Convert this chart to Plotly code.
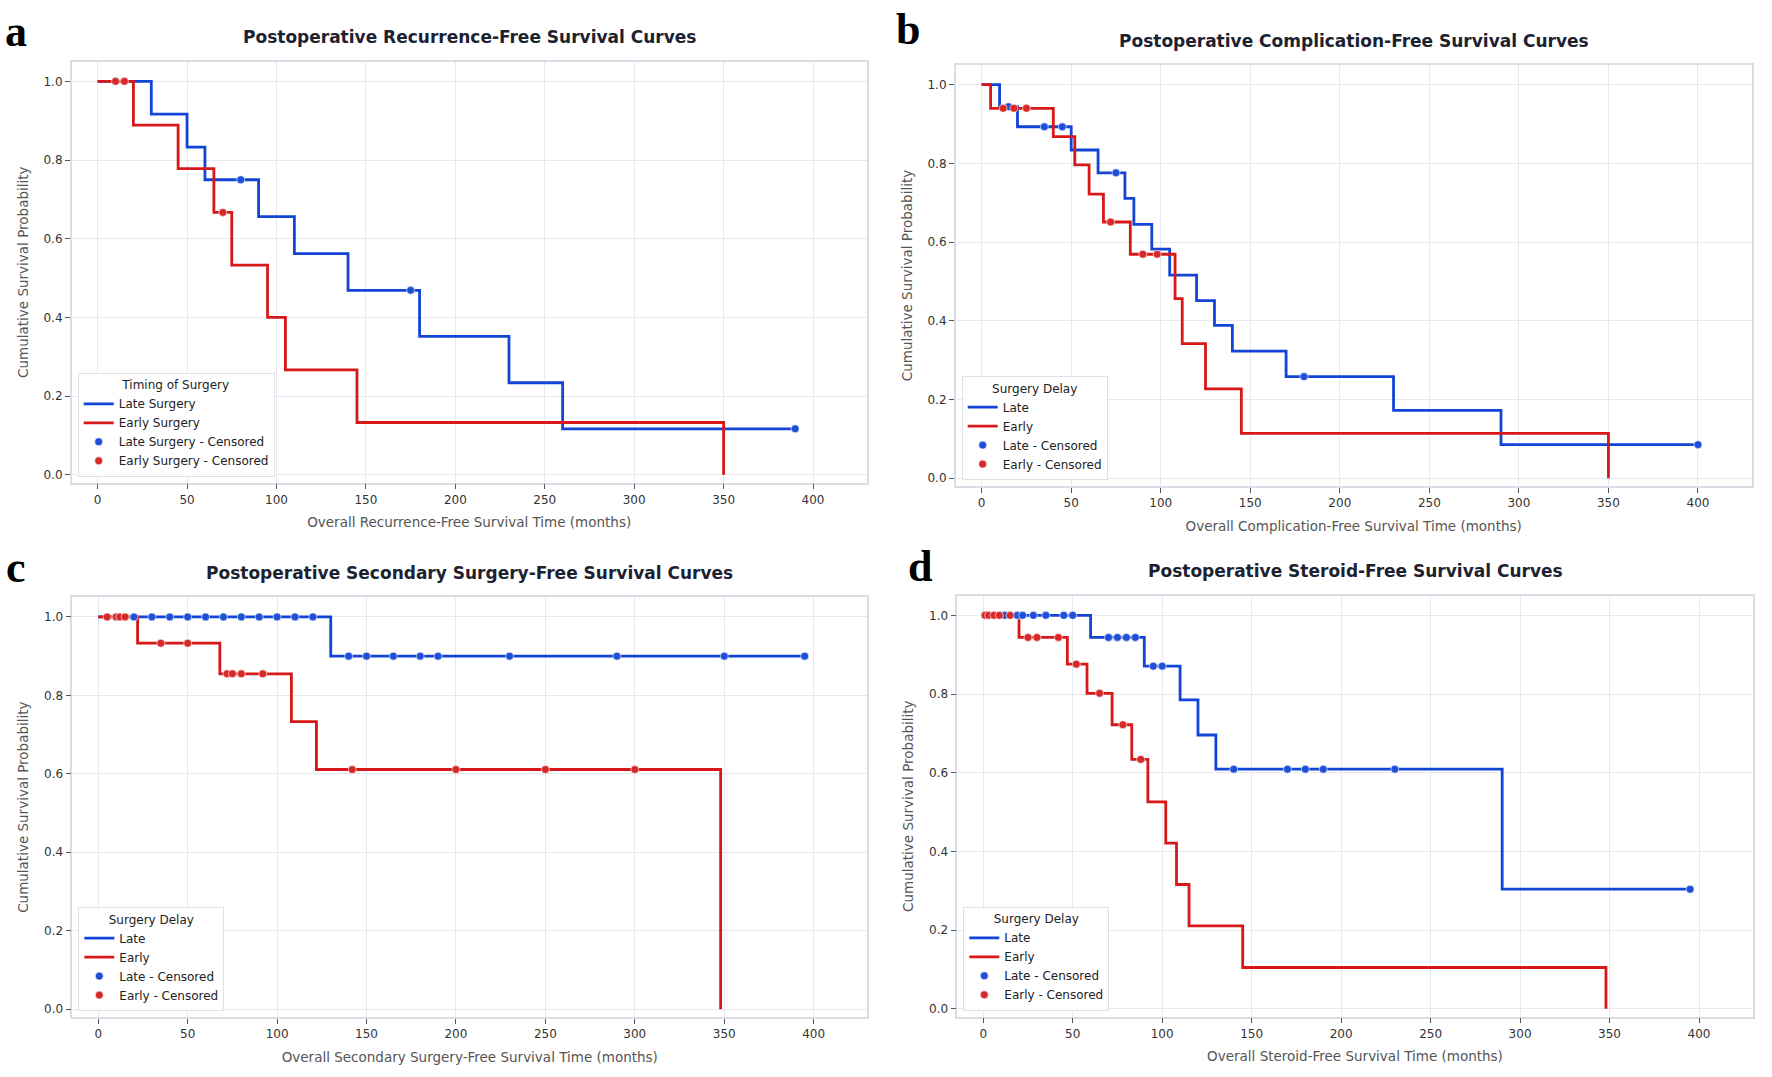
import plotly.graph_objects as go

W, H = 1772, 1077

# ---- data (time in months, survival probability) ----
# a: recurrence-free
late_a_t = [0, 30, 50, 60, 90, 110, 140, 180, 230, 260]
late_a_s = [1.0, 0.917, 0.833, 0.750, 0.656, 0.562, 0.469, 0.352, 0.234, 0.117]
late_a_end = 390
late_a_cens = [80, 175, 390]
early_a_t = [0, 20, 45, 65, 75, 95, 105, 145, 350]
early_a_s = [1.0, 0.889, 0.778, 0.667, 0.533, 0.400, 0.267, 0.133, 0.0]
early_a_end = 350
early_a_cens = [10, 15, 70]

# b: complication-free
late_b_t = [0, 10, 20, 50, 65, 80, 85, 95, 105, 120, 130, 140, 170, 230, 290]
late_b_s = [1.0, 0.944, 0.893, 0.834, 0.776, 0.711, 0.645, 0.582, 0.516, 0.451, 0.388, 0.323, 0.258, 0.172, 0.085]
late_b_end = 400
late_b_cens = [15, 35, 45, 75, 180, 400]
early_b_t = [0, 5, 40, 52, 60, 68, 83, 108, 112, 125, 145, 350]
early_b_s = [1.0, 0.94, 0.868, 0.796, 0.722, 0.651, 0.569, 0.456, 0.342, 0.227, 0.114, 0.0]
early_b_end = 350
early_b_cens = [12, 18, 25, 72, 90, 98]

# c: secondary surgery-free
late_c_t = [0, 130]
late_c_s = [1.0, 0.9]
late_c_end = 395
late_c_cens = [20, 30, 40, 50, 60, 70, 80, 90, 100, 110, 120,
               140, 150, 165, 180, 190, 230, 290, 350, 395]
early_c_t = [0, 22, 68, 108, 122, 348]
early_c_s = [1.0, 0.933, 0.855, 0.733, 0.611, 0.0]
early_c_end = 348
early_c_cens = [5, 10, 12, 15, 35, 50, 72, 75, 80, 92, 142, 200, 250, 300]

# d: steroid-free
late_d_t = [0, 60, 90, 110, 120, 130, 290]
late_d_s = [1.0, 0.944, 0.871, 0.785, 0.696, 0.609, 0.304]
late_d_end = 395
late_d_cens = [1, 12, 19, 22, 28, 35, 45, 50, 70, 75, 80, 85, 95, 100,
               140, 170, 180, 190, 230, 395]
early_d_t = [0, 20, 47, 58, 72, 83, 92, 102, 108, 115, 145, 348]
early_d_s = [1.0, 0.944, 0.876, 0.802, 0.722, 0.634, 0.526, 0.421, 0.316, 0.211, 0.105, 0.0]
early_d_end = 348
early_d_cens = [1, 3, 6, 9, 15, 25, 30, 42, 52, 65, 78, 88]

titles = ["Postoperative Recurrence-Free Survival Curves",
          "Postoperative Complication-Free Survival Curves",
          "Postoperative Secondary Surgery-Free Survival Curves",
          "Postoperative Steroid-Free Survival Curves"]
xtitles = ["Overall Recurrence-Free Survival Time (months)",
           "Overall Complication-Free Survival Time (months)",
           "Overall Secondary Surgery-Free Survival Time (months)",
           "Overall Steroid-Free Survival Time (months)"]
legend_titles = ["Timing of Surgery", "Surgery Delay", "Surgery Delay", "Surgery Delay"]
late_names = ["Late Surgery", "Late", "Late", "Late"]
early_names = ["Early Surgery", "Early", "Early", "Early"]
letters = ["a", "b", "c", "d"]

BLUE = "#1244d6"
RED = "#d81818"
BLUE_DOT = "#1f4fd8"
RED_DOT = "#d62a2a"

# plot boxes in pixels: left, right, top, bottom
boxes = [(71.7, 866.7, 61.7, 482.7),
         (955.7, 1751.7, 65.0, 486.0),
         (72.3, 867.3, 597.3, 1017.0),
         (957.3, 1752.7, 595.7, 1016.7)]
title_y = [37, 41, 573, 571]
letter_pos = [(3, 31), (894, 29), (4, 567), (906, 566)]


def surv_at(times, surv, t):
    s = surv[0]
    for ti, si in zip(times, surv):
        if ti <= t:
            s = si
    return s


panels = [
    (late_a_t, late_a_s, late_a_end, late_a_cens, early_a_t, early_a_s, early_a_end, early_a_cens),
    (late_b_t, late_b_s, late_b_end, late_b_cens, early_b_t, early_b_s, early_b_end, early_b_cens),
    (late_c_t, late_c_s, late_c_end, late_c_cens, early_c_t, early_c_s, early_c_end, early_c_cens),
    (late_d_t, late_d_s, late_d_end, late_d_cens, early_d_t, early_d_s, early_d_end, early_d_cens),
]

fig = go.Figure()
annotations = []

for i, (lt, ls, le, lc, et, es, ee, ec) in enumerate(panels):
    n = "" if i == 0 else str(i + 1)
    xa, ya = "x" + n, "y" + n
    leg = "legend" + n
    fig.add_trace(go.Scatter(x=lt + [le], y=ls + [ls[-1]], mode="lines", line_shape="hv",
                             line=dict(color=BLUE, width=2.8), name=late_names[i],
                             xaxis=xa, yaxis=ya, legend=leg))
    fig.add_trace(go.Scatter(x=et + [ee], y=es + [es[-1]], mode="lines", line_shape="hv",
                             line=dict(color=RED, width=2.8), name=early_names[i],
                             xaxis=xa, yaxis=ya, legend=leg))
    fig.add_trace(go.Scatter(x=lc, y=[surv_at(lt, ls, t) for t in lc], mode="markers",
                             marker=dict(color=BLUE_DOT, size=8, line=dict(color="white", width=0.6)),
                             name=late_names[i] + " - Censored", xaxis=xa, yaxis=ya, legend=leg))
    fig.add_trace(go.Scatter(x=ec, y=[surv_at(et, es, t) for t in ec], mode="markers",
                             marker=dict(color=RED_DOT, size=8, line=dict(color="white", width=0.6)),
                             name=early_names[i] + " - Censored", xaxis=xa, yaxis=ya, legend=leg))

    l, r, t, b = boxes[i]
    axis_common = dict(showgrid=True, gridcolor="#e6e9ef", gridwidth=1, zeroline=False,
                       showline=True, mirror=True, linecolor="#d9dee6", linewidth=1.5,
                       ticks="outside", ticklen=5, tickcolor="#555", tickwidth=1,
                       tickfont=dict(family="DejaVu Sans", size=12, color="#333"))
    fig.update_layout({
        "xaxis" + n: dict(axis_common, domain=[l / W, r / W], anchor=ya,
                          range=[-14.5, 430], tickvals=[0, 50, 100, 150, 200, 250, 300, 350, 400],
                          title=dict(text=xtitles[i], standoff=12,
                                     font=dict(family="DejaVu Sans", size=13.5, color="#555"))),
        "yaxis" + n: dict(axis_common, domain=[1 - b / H, 1 - t / H], anchor=xa,
                          range=[-0.02, 1.05], tickvals=[0, 0.2, 0.4, 0.6, 0.8, 1.0],
                          tickformat=".1f",
                          title=dict(text="Cumulative Survival Probability", standoff=12,
                                     font=dict(family="DejaVu Sans", size=13.5, color="#555"))),
        leg: dict(x=(l + 6) / W, y=1 - (b - 6) / H, xanchor="left", yanchor="bottom",
                  bgcolor="rgba(255,255,255,0.85)", bordercolor="#dde2e8", borderwidth=1,
                  font=dict(family="DejaVu Sans", size=12, color="#222"),
                  title=dict(text=legend_titles[i], side="top center",
                             font=dict(family="DejaVu Sans", size=12, color="#222")),
                  tracegroupgap=0, itemwidth=30),
    })

    annotations.append(dict(text=titles[i], x=(l + r) / 2 / W, y=1 - title_y[i] / H,
                            xref="paper", yref="paper", showarrow=False,
                            xanchor="center", yanchor="middle",
                            font=dict(family="DejaVu Sans", size=17, color="#1c2230", weight="bold")))
    lx, ly = letter_pos[i]
    annotations.append(dict(text=letters[i], x=lx / W, y=1 - ly / H,
                            xref="paper", yref="paper", showarrow=False,
                            xanchor="left", yanchor="middle",
                            font=dict(family="Liberation Serif", size=44, color="#000", weight="bold")))

fig.update_layout(width=W, height=H, margin=dict(l=0, r=0, t=0, b=0),
                  paper_bgcolor="white", plot_bgcolor="white",
                  showlegend=True, annotations=annotations)

# drop the browser's default 8px body margin so the figure sits at the page origin
fig.write_html("out.html", config={"displayModeBar": False},
               post_script="document.body.style.margin='0px';")
